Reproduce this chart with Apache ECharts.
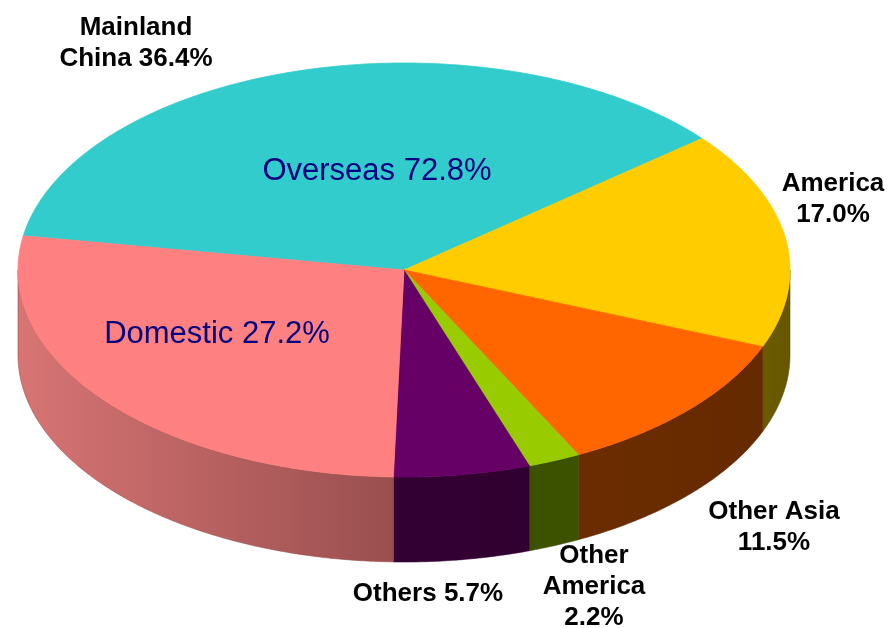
<!DOCTYPE html>
<html>
<head>
<meta charset="utf-8">
<script src="https://cdn.jsdelivr.net/npm/echarts@6/dist/echarts.min.js"></script>
<style>
  html, body { margin: 0; padding: 0; background: #ffffff; }
  #chart { width: 888px; height: 628px; }
</style>
</head>
<body>
<div id="chart"></div>
<script>
// Sales share by region (%), drawn clockwise starting with Mainland China
const regions = ['Mainland China', 'America', 'Other Asia', 'Other America', 'Others', 'Domestic'];
const shares = [36.4, 17.0, 11.5, 2.2, 5.7, 27.2];
// Slices that make up the "Overseas" group
const overseasRegions = ['Mainland China', 'America', 'Other Asia', 'Other America', 'Others'];
const domesticRegions = ['Domestic'];
// Outside label wording; {v} is replaced with the slice value
const outsideLabelTemplates = {
  'Mainland China': 'Mainland\nChina {v}%',
  'America': 'America\n{v}%',
  'Other Asia': 'Other Asia\n{v}%',
  'Other America': 'Other\nAmerica\n{v}%',
  'Others': 'Others {v}%'
};

// ---- styling / layout ----
const topColors = ['#33CCCC', '#FFCC00', '#FF6600', '#99CC00', '#660066', '#FF8080'];
const sideColors = [
  ['#1F7A7A', '#1F7A7A'],
  ['#6B5B00', '#665600'],
  ['#6B2C00', '#662A00'],
  ['#3D5200', '#3D5200'],
  ['#340034', '#300030'],
  ['#D87474', '#9A4F4F']
];
const pie = { cx: 404, cy: 270, rx: 386, ry: 207, depth: 85, startDeg: 189.5 };
const outsideLabelPos = {
  'Mainland China': [136, 43],
  'America': [833, 199],
  'Other Asia': [774, 527],
  'Other America': [594, 587],
  'Others': [428, 594]
};
const groupLabelPos = { overseas: [377, 171], domestic: [217, 334] };

const total = shares.reduce((a, b) => a + b, 0);
const startAngles = [];
shares.reduce((acc, v, i) => { startAngles[i] = pie.startDeg + acc / total * 360; return acc + v; }, 0);

function ellipsePoint(deg, dy) {
  const t = deg * Math.PI / 180;
  return [pie.cx + pie.rx * Math.cos(t), pie.cy + pie.ry * Math.sin(t) + (dy || 0)];
}

function arcPoints(a0, a1, dy) {
  const n = Math.max(2, Math.ceil((a1 - a0) / 0.5));
  const pts = [];
  for (let k = 0; k <= n; k++) pts.push(ellipsePoint(a0 + (a1 - a0) * k / n, dy));
  return pts;
}

function renderSlice(params, api) {
  const i = params.dataIndex;
  const a0 = startAngles[i];
  const a1 = a0 + api.value(0) / total * 360;
  const children = [];

  // front wall: the part of the rim facing the viewer (0..180 deg, screen angles)
  for (let k = -1; k <= 2; k++) {
    const lo = Math.max(a0, 360 * k);
    const hi = Math.min(a1, 360 * k + 180);
    if (hi > lo) {
      const pts = arcPoints(lo, hi, 0).concat(arcPoints(lo, hi, pie.depth).reverse());
      children.push({
        type: 'polygon',
        shape: { points: pts },
        style: {
          fill: new echarts.graphic.LinearGradient(0, 0, 1, 0, [
            { offset: 0, color: sideColors[i][0] },
            { offset: 1, color: sideColors[i][1] }
          ]),
          stroke: sideColors[i][1],
          lineWidth: 0.6
        }
      });
    }
  }

  // top face
  children.push({
    type: 'polygon',
    shape: { points: [[pie.cx, pie.cy]].concat(arcPoints(a0, a1, 0)) },
    style: { fill: topColors[i], stroke: topColors[i], lineWidth: 0.8 }
  });

  return { type: 'group', children: children };
}

function sumOf(names) {
  return names.reduce((s, n) => s + shares[regions.indexOf(n)], 0);
}

const outsideFont = 'bold 26px "Liberation Sans", Arial, sans-serif';
const insideFont = '31px "Liberation Sans", Arial, sans-serif';

const labelGraphics = Object.keys(outsideLabelTemplates).map(name => {
  const v = shares[regions.indexOf(name)].toFixed(1);
  const p = outsideLabelPos[name];
  return {
    type: 'text', x: p[0], y: p[1], z: 100, silent: true,
    style: {
      text: outsideLabelTemplates[name].replace('{v}', v),
      font: outsideFont, fill: '#000000',
      textAlign: 'center', textVerticalAlign: 'middle',
      align: 'center', verticalAlign: 'middle', lineHeight: 31
    }
  };
});
labelGraphics.push({
  type: 'text', x: groupLabelPos.overseas[0], y: groupLabelPos.overseas[1], z: 100, silent: true,
  style: {
    text: 'Overseas ' + sumOf(overseasRegions).toFixed(1) + '%',
    font: insideFont, fill: '#000080',
    textAlign: 'center', textVerticalAlign: 'middle', align: 'center', verticalAlign: 'middle'
  }
});
labelGraphics.push({
  type: 'text', x: groupLabelPos.domestic[0], y: groupLabelPos.domestic[1], z: 100, silent: true,
  style: {
    text: 'Domestic ' + sumOf(domesticRegions).toFixed(1) + '%',
    font: insideFont, fill: '#000080',
    textAlign: 'center', textVerticalAlign: 'middle', align: 'center', verticalAlign: 'middle'
  }
});

const chart = echarts.init(document.getElementById('chart'), null, { renderer: 'canvas' });
chart.setOption({
  backgroundColor: '#ffffff',
  animation: false,
  series: [{
    type: 'custom',
    name: 'Share by region',
    coordinateSystem: 'none',
    silent: true,
    z: 1,
    renderItem: renderSlice,
    data: shares.map((v, i) => ({ name: regions[i], value: [v] }))
  }],
  graphic: labelGraphics
});
</script>
</body>
</html>
